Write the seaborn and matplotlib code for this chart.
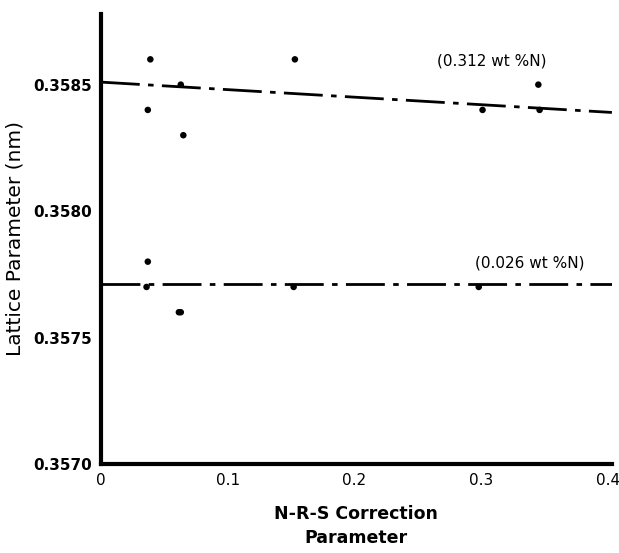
import numpy as np
import pandas as pd
import matplotlib
matplotlib.use("Agg")
import matplotlib.pyplot as plt
import seaborn as sns

# data
high_x = [0.039, 0.037, 0.063, 0.065, 0.153, 0.301, 0.345, 0.346]
high_y = [0.3586, 0.3584, 0.3585, 0.3583, 0.3586, 0.3584, 0.3585, 0.3584]
low_x = [0.037, 0.036, 0.0615, 0.063, 0.152, 0.298]
low_y = [0.3578, 0.3577, 0.3576, 0.3576, 0.3577, 0.3577]

high_fit_x = [0.0, 0.403]
high_fit_y = [0.35851, 0.35839]
low_fit_x = [0.0, 0.403]
low_fit_y = [0.35771, 0.35771]

x_ticks = [0, 0.1, 0.2, 0.3, 0.4]
x_labels = ["0", "0.1", "0.2", "0.3", "0.4"]
y_ticks = [0.3570, 0.3575, 0.3580, 0.3585]
y_labels = ["0.3570", "0.3575", "0.3580", "0.3585"]

sns.set_style("white")
plt.rcParams["font.family"] = ["DejaVu Sans"]
plt.rcParams["text.color"] = "black"
plt.rcParams["axes.labelcolor"] = "black"
plt.rcParams["xtick.color"] = "black"
plt.rcParams["ytick.color"] = "black"

fig = plt.figure(figsize=(6.19, 5.53), dpi=100)
ax = fig.add_axes([0.163, 0.161, 0.8255, 0.814])

pts = pd.DataFrame({"x": high_x + low_x, "y": high_y + low_y})
sns.scatterplot(data=pts, x="x", y="y", color="black", s=22, edgecolor="none", ax=ax)

# dash-dot fit lines
dash = (14, 3, 2, 3)
sns.lineplot(x=high_fit_x, y=high_fit_y, color="black", lw=2, ax=ax)
sns.lineplot(x=low_fit_x, y=low_fit_y, color="black", lw=2, ax=ax)
for ln in ax.lines:
    ln.set_dashes(dash)

ax.set_xlim(0, 0.403)
ax.set_ylim(0.3570, 0.35878)
ax.set_xticks(x_ticks)
ax.set_xticklabels(x_labels, fontsize=11)
ax.set_yticks(y_ticks)
ax.set_yticklabels(y_labels, fontsize=11, fontweight="bold")
ax.tick_params(axis="both", direction="inout", length=6, width=1.5, color="black")

for side in ["top", "right"]:
    ax.spines[side].set_visible(False)
for side in ["left", "bottom"]:
    ax.spines[side].set_linewidth(3)
    ax.spines[side].set_color("black")

ax.set_xlabel("N-R-S Correction\nParameter", fontsize=12.5, fontweight="bold", labelpad=12,
              linespacing=1.45)
ax.set_ylabel("Lattice Parameter (nm)", fontsize=14.5, labelpad=6)

ax.text(0.265, 0.358594, "(0.312 wt %N)", fontsize=11, ha="left", va="center")
ax.text(0.295, 0.357795, "(0.026 wt %N)", fontsize=11, ha="left", va="center")

fig.savefig("out.png", dpi=100)
